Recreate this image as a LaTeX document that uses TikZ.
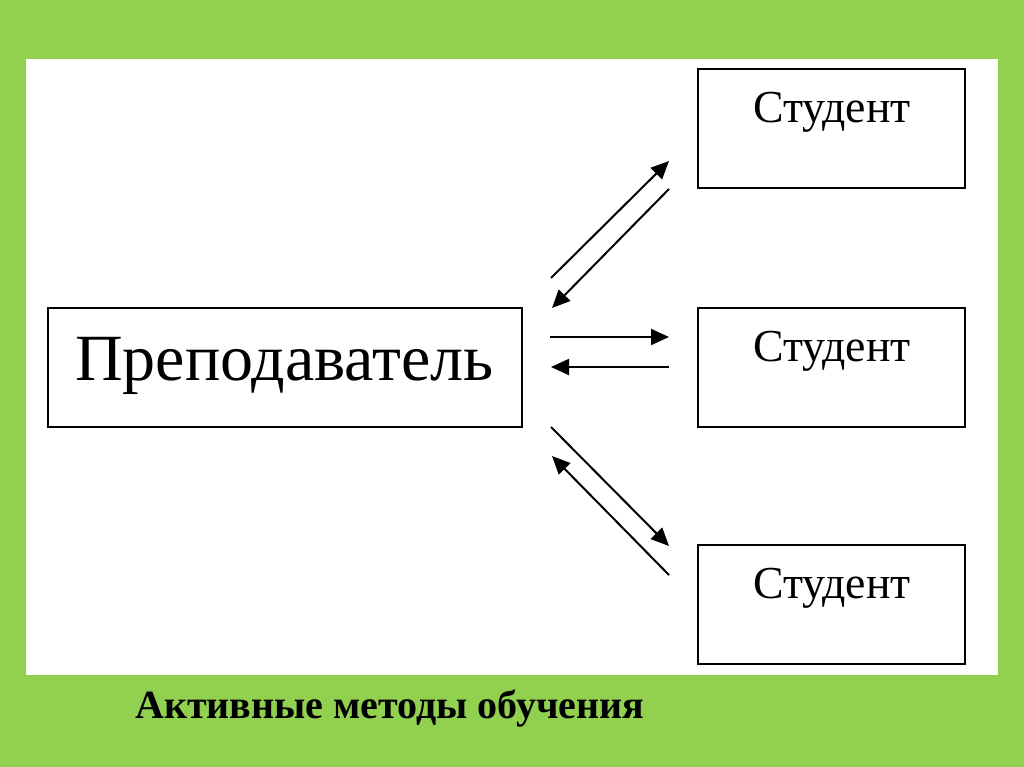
\documentclass[tikz,border=0pt]{standalone}
\usepackage{fontspec}
\setmainfont{Liberation Serif}
\usetikzlibrary{arrows.meta}
\definecolor{bggreen}{HTML}{92D050}
\begin{document}
\begin{tikzpicture}[x=1pt,y=-1pt,
  box/.style={draw=black,line width=2pt,fill=white,minimum width=#1,inner sep=0pt,outer sep=0pt,minimum height=119pt},
  box/.default=267pt,
  link/.style={line width=2pt,-{Triangle[length=18pt,width=16pt]}},
  bigtext/.style={anchor=base west,inner sep=0pt,font=\fontsize{66}{70}\selectfont},
  stext/.style={anchor=base west,inner sep=0pt,font=\fontsize{45.8}{50}\selectfont},
  captext/.style={anchor=base west,inner sep=0pt,font=\fontsize{40}{46}\selectfont\bfseries}]
\useasboundingbox (0,0) rectangle (1024,767);
\fill[bggreen] (0,0) rectangle (1024,767);
\fill[white] (26,59) rectangle (998,675);
% boxes
\node[box=474pt] (teacher) at (285,367) {};
\node[box] (s1) at (831.5,129) {};
\node[box] (s2) at (831.5,367.5) {};
\node[box] (s3) at (831.5,604.5) {};
% labels
\node[bigtext] (tl) at (75,380) {Преподаватель};
\node[stext] (l1) at (753,123) {Студент};
\node[stext] (l2) at (753,361) {Студент};
\node[stext] (l3) at (753,598) {Студент};
\node[captext] (cap) at (135,718) {Активные методы обучения};
% arrow end points
\coordinate (a1s) at (551,278);
\coordinate (a1e) at (669,161);
\coordinate (a2s) at (669,189);
\coordinate (a2e) at (552,308);
\coordinate (b1s) at (550,337);
\coordinate (b1e) at (669,337);
\coordinate (b2s) at (669,367);
\coordinate (b2e) at (551,367);
\coordinate (c1s) at (551,427);
\coordinate (c1e) at (669,546);
\coordinate (c2s) at (669,575);
\coordinate (c2e) at (552,456);
\draw[link] (a1s) -- (a1e);
\draw[link] (a2s) -- (a2e);
\draw[link] (b1s) -- (b1e);
\draw[link] (b2s) -- (b2e);
\draw[link] (c1s) -- (c1e);
\draw[link] (c2s) -- (c2e);
\end{tikzpicture}
\end{document}
